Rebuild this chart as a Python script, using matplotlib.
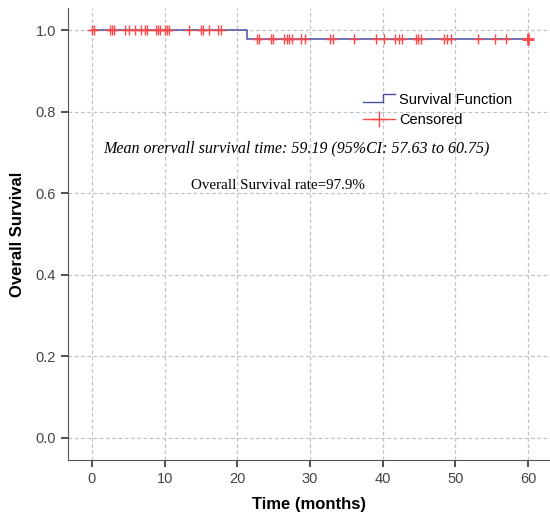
#%%
import numpy as np
import matplotlib
matplotlib.use("Agg")
import matplotlib.pyplot as plt
from matplotlib.lines import Line2D
from matplotlib.legend_handler import HandlerBase

#%% Datos
event_time = 21.3
surv_before = 1.0
surv_after = 0.979
end_time = 60
censor_times = [0.0, 0.3, 2.5, 2.75, 3.0, 4.6, 5.05, 5.9, 6.8, 7.3, 7.6,
                8.8, 9.1, 9.35, 10.0, 10.3, 10.6, 13.3, 14.95, 15.3, 16.1,
                17.4, 17.8,
                22.75, 23.0, 24.6, 24.95, 26.4, 26.8, 27.15, 27.5, 28.7, 29.3,
                32.7, 33.1, 36.05, 39.0, 40.1, 41.7, 42.2, 42.6, 44.5, 44.9,
                45.2, 48.4, 48.9, 49.4, 53.1, 55.5, 56.9, 60.0]
x_ticks = [0, 10, 20, 30, 40, 50, 60]
y_ticks = [0.0, 0.2, 0.4, 0.6, 0.8, 1.0]

BLUE = "#4a50a0"
RED = "#ff4848"

#%%
class StepHandler(HandlerBase):
    def create_artists(self, legend, orig_handle, xdescent, ydescent,
                       width, height, fontsize, trans):
        xs = np.array([0, 0.62, 0.62, 1.0]) * width - xdescent
        ys = np.array([0.15, 0.15, 1.0, 1.0]) * height - ydescent
        return [Line2D(xs, ys, color=BLUE, lw=1, transform=trans)]

plt.rcParams["font.family"] = ["Liberation Sans", "DejaVu Sans"]

f = plt.figure(figsize=(5.5, 5.18), dpi=100)
ax = f.add_axes([68/550, 1-460/518, 1-68/550, (460-8)/518])

ct = np.array(censor_times)
cs = np.where(ct < event_time, surv_before, surv_after)

ax.step([0, event_time, end_time], [surv_before, surv_after, surv_after],
        where="post", color=BLUE, lw=1.1, zorder=3)
ax.plot(ct[:-1], cs[:-1], "+", color=RED, ms=7.5, mew=1, zorder=4)
ax.plot(ct[-1:], cs[-1:], "+", color=RED, ms=9, mew=2, zorder=4)

ax.set_xlim(-3.3, 63.0)
ax.set_ylim(-0.054, 1.054)
ax.set_xticks(x_ticks)
ax.set_yticks(y_ticks)
ax.set_yticklabels([f"{v:.1f}" for v in y_ticks])
ax.grid(True, ls=(0, (3, 2)), color="#c2c2c2", lw=0.9)
ax.set_axisbelow(True)
for s in ["top", "right"]:
    ax.spines[s].set_visible(False)
for s in ["left", "bottom"]:
    ax.spines[s].set_color("#555555")
ax.tick_params(direction="out", length=5, width=1.2, color="#333333",
               labelcolor="#444444", labelsize=10.5)

ax.set_xlabel("Time (months)", fontsize=12, fontweight="bold", labelpad=8)
ax.set_ylabel("Overall Survival", fontsize=12, fontweight="bold", labelpad=8)

ax.text(28.1, 0.71, "Mean orervall survival time: 59.19 (95%CI: 57.63 to 60.75)",
        family="Liberation Serif", style="italic", fontsize=11.5,
        ha="center", va="center")
ax.text(25.6, 0.62, "Overall Survival rate=97.9%", family="Liberation Serif",
        fontsize=10.8, ha="center", va="center")

h_step = Line2D([], [], color=BLUE)
h_cens = Line2D([], [], color=RED, marker="+", ms=12, lw=1)
ax.legend([h_step, h_cens], ["Survival Function", "Censored"],
          handler_map={h_step: StepHandler()},
          loc="upper left", bbox_to_anchor=(0.6, 0.825), frameon=False,
          fontsize=10.5, handlelength=2.2, handletextpad=0.3,
          labelspacing=0.45, borderaxespad=0)

plt.savefig("out.png", dpi=100)
